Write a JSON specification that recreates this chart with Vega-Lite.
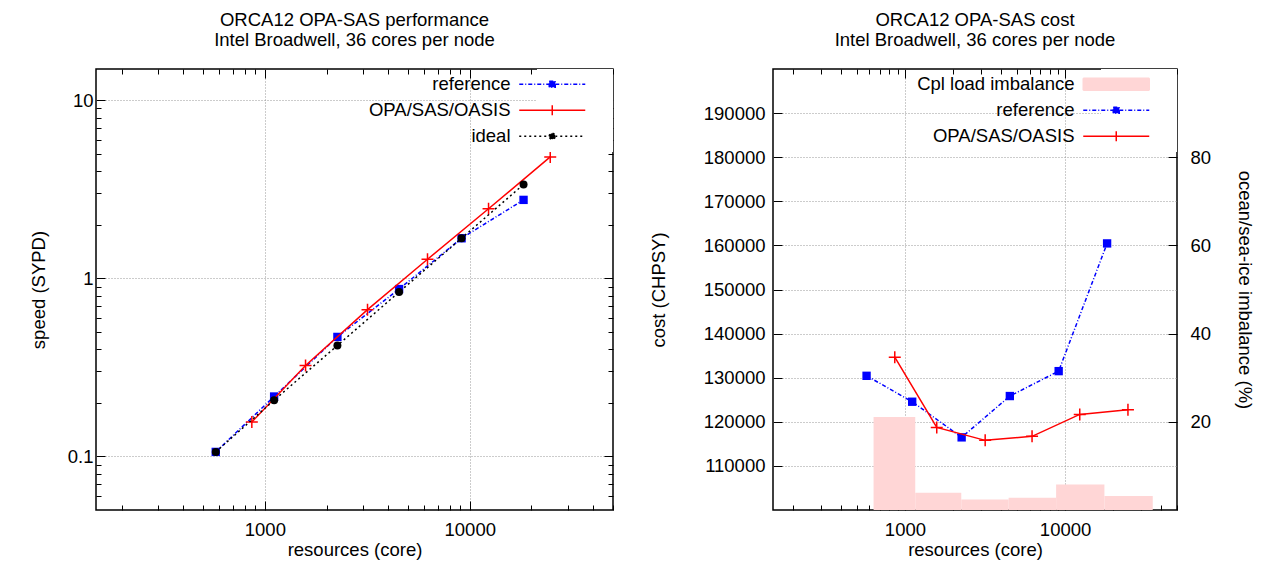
{
  "$schema": "https://vega.github.io/schema/vega-lite/v6.json",
  "background": "white",
  "padding": {"left": 28, "top": 10, "right": 0, "bottom": 0},
  "datasets": {
    "speed": [
      {"cores": 576, "sypd": 0.106, "series": "reference"},
      {"cores": 1110, "sypd": 0.217, "series": "reference"},
      {"cores": 2260, "sypd": 0.469, "series": "reference"},
      {"cores": 4520, "sypd": 0.871, "series": "reference"},
      {"cores": 9120, "sypd": 1.68, "series": "reference"},
      {"cores": 18300, "sypd": 2.76, "series": "reference"},
      {"cores": 864, "sypd": 0.156, "series": "OPA/SAS/OASIS"},
      {"cores": 1580, "sypd": 0.324, "series": "OPA/SAS/OASIS"},
      {"cores": 3170, "sypd": 0.667, "series": "OPA/SAS/OASIS"},
      {"cores": 6220, "sypd": 1.28, "series": "OPA/SAS/OASIS"},
      {"cores": 12350, "sypd": 2.46, "series": "OPA/SAS/OASIS"},
      {"cores": 24700, "sypd": 4.81, "series": "OPA/SAS/OASIS"},
      {"cores": 576, "sypd": 0.106, "series": "ideal"},
      {"cores": 1110, "sypd": 0.207, "series": "ideal"},
      {"cores": 2260, "sypd": 0.42, "series": "ideal"},
      {"cores": 4520, "sypd": 0.838, "series": "ideal"},
      {"cores": 9120, "sypd": 1.68, "series": "ideal"},
      {"cores": 18300, "sypd": 3.37, "series": "ideal"}
    ],
    "cost": [
      {"cores": 576, "chpsy": 130430, "series": "reference"},
      {"cores": 1110, "chpsy": 124550, "series": "reference"},
      {"cores": 2260, "chpsy": 116470, "series": "reference"},
      {"cores": 4520, "chpsy": 125840, "series": "reference"},
      {"cores": 9120, "chpsy": 131490, "series": "reference"},
      {"cores": 18300, "chpsy": 160450, "series": "reference"},
      {"cores": 864, "chpsy": 134660, "series": "OPA/SAS/OASIS"},
      {"cores": 1580, "chpsy": 118730, "series": "OPA/SAS/OASIS"},
      {"cores": 3170, "chpsy": 115790, "series": "OPA/SAS/OASIS"},
      {"cores": 6220, "chpsy": 116700, "series": "OPA/SAS/OASIS"},
      {"cores": 12350, "chpsy": 121670, "series": "OPA/SAS/OASIS"},
      {"cores": 24700, "chpsy": 122740, "series": "OPA/SAS/OASIS"}
    ],
    "imb": [
      {"start": 637, "end": 1160, "pct": 21.1, "series": "Cpl load imbalance"},
      {"start": 1160, "end": 2248, "pct": 3.9, "series": "Cpl load imbalance"},
      {"start": 2248, "end": 4441, "pct": 2.4, "series": "Cpl load imbalance"},
      {"start": 4441, "end": 8790, "pct": 2.8, "series": "Cpl load imbalance"},
      {"start": 8790, "end": 17610, "pct": 5.8, "series": "Cpl load imbalance"},
      {"start": 17610, "end": 35280, "pct": 3.2, "series": "Cpl load imbalance"}
    ]
  },
  "spacing": 33,
  "resolve": {"scale": {"color": "independent"}, "legend": {"color": "independent"}},
  "hconcat": [
    {
      "width": 517,
      "height": 441,
      "title": {"text": ["ORCA12 OPA-SAS performance", "Intel Broadwell, 36 cores per node"], "frame": "group", "anchor": "middle", "offset": 19},
      "data": {"name": "speed"},
      "resolve": {"axis": {"x": "independent", "y": "independent"}},
      "layer": [
        {
          "transform": [{"filter": "datum.series === 'reference'"}],
          "mark": {"type": "line", "strokeWidth": 1.5, "strokeDash": [4, 2, 1, 2]},
          "encoding": {
            "x": {"field": "cores", "type": "quantitative", "scale": {"type": "log", "domain": [150, 50000], "nice": false},
              "axis": {"orient": "bottom", "title": "resources (core)", "values": [200,300,400,500,600,700,800,900,1000,2000,3000,4000,5000,6000,7000,8000,9000,10000,20000,30000,40000,50000],
                "labelExpr": "datum.value == 1000 ? '1000' : datum.value == 10000 ? '10000' : ''",
                "labelOverlap": false, "labelFlush": false, "labelPadding": 19, "titlePadding": -2,
                "tickSize": {"condition": {"test": "datum.value == 1000 || datum.value == 10000", "value": -9}, "value": -5},
                "grid": true, "gridOpacity": {"condition": {"test": "datum.value == 1000 || datum.value == 10000", "value": 1}, "value": 0}}},
            "y": {"field": "sypd", "type": "quantitative", "scale": {"type": "log", "domain": [0.05, 15], "nice": false},
              "axis": {"orient": "left", "title": "speed (SYPD)", "values": [0.06,0.07,0.08,0.09,0.1,0.2,0.3,0.4,0.5,0.6,0.7,0.8,0.9,1,2,3,4,5,6,7,8,9,10],
                "labelExpr": "datum.value == 0.1 ? '0.1' : datum.value == 1 ? '1' : datum.value == 10 ? '10' : ''",
                "labelOverlap": false, "labelFlush": false, "labelPadding": 12, "titlePadding": 19,
                "tickSize": {"condition": {"test": "datum.value == 0.1 || datum.value == 1 || datum.value == 10", "value": -9}, "value": -5},
                "grid": true, "gridOpacity": {"condition": {"test": "datum.value == 0.1 || datum.value == 1 || datum.value == 10", "value": 1}, "value": 0}}},
            "color": {"field": "series", "type": "nominal",
              "scale": {"domain": ["reference", "OPA/SAS/OASIS", "ideal"], "range": ["#0000ff", "#ff0000", "#000000"]},
              "legend": {
                "title": null, "orient": "top-right", "offset": 0, "fillColor": "white", "padding": 6,
                "symbolSize": 100, "symbolStrokeWidth": 1.5, "labelAlign": "right", "labelOffset": -51,
                "labelFontSize": 18.5, "labelLimit": 400, "rowPadding": 7,
                "encode": {"symbols": {"update": {
                  "shape": {"signal": "datum.value === 'reference' ? 'M-6.6,0H6.6M-0.6,-0.6H0.6V0.6H-0.6ZM10.2,0' : datum.value === 'ideal' ? 'M-6.6,0H-0.6A0.6,0.6,0,1,1,0.6,0A0.6,0.6,0,1,1,-0.6,0M0.6,0H6.6M10.2,0' : 'M-6.6,0H6.6M0,-1V1M10.2,0'"},
                  "fill": {"signal": "datum.value === 'reference' ? '#0000ff' : datum.value === 'ideal' ? '#000000' : 'transparent'"},
                  "stroke": {"signal": "datum.value === 'reference' ? '#0000ff' : datum.value === 'ideal' ? '#000000' : '#ff0000'"},
                  "strokeDash": {"signal": "datum.value === 'reference' ? [4,2,1,2] : datum.value === 'ideal' ? [2,3] : [1,0]"},
                  "opacity": {"value": 1}
                }}}
              }}
          }
        },
        {
          "transform": [{"filter": "datum.series === 'reference'"}],
          "mark": {"type": "point", "shape": "square", "filled": true, "size": 70, "opacity": 1},
          "encoding": {
            "x": {"field": "cores", "type": "quantitative", "scale": {"type": "log", "domain": [150, 50000], "nice": false},
              "axis": {"orient": "top", "title": null, "labels": false, "grid": false, "values": [200,300,400,500,600,700,800,900,1000,2000,3000,4000,5000,6000,7000,8000,9000,10000,20000,30000,40000,50000],
                "tickSize": {"condition": {"test": "datum.value == 1000 || datum.value == 10000", "value": -9}, "value": -5}}},
            "y": {"field": "sypd", "type": "quantitative", "scale": {"type": "log", "domain": [0.05, 15], "nice": false},
              "axis": {"orient": "right", "title": null, "labels": false, "grid": false, "values": [0.06,0.07,0.08,0.09,0.1,0.2,0.3,0.4,0.5,0.6,0.7,0.8,0.9,1,2,3,4,5,6,7,8,9,10],
                "tickSize": {"condition": {"test": "datum.value == 0.1 || datum.value == 1 || datum.value == 10", "value": -9}, "value": -5}}},
            "color": {"field": "series", "type": "nominal"}
          }
        },
        {
          "transform": [{"filter": "datum.series === 'OPA/SAS/OASIS'"}],
          "mark": {"type": "line", "strokeWidth": 1.5},
          "encoding": {
            "x": {"field": "cores", "type": "quantitative", "scale": {"type": "log", "domain": [150, 50000], "nice": false}, "axis": null},
            "y": {"field": "sypd", "type": "quantitative", "scale": {"type": "log", "domain": [0.05, 15], "nice": false}, "axis": null},
            "color": {"field": "series", "type": "nominal"}
          }
        },
        {
          "transform": [{"filter": "datum.series === 'OPA/SAS/OASIS'"}],
          "mark": {"type": "point", "shape": "M-1,0H1M0,-1V1", "filled": false, "size": 144, "strokeWidth": 1.5, "opacity": 1},
          "encoding": {
            "x": {"field": "cores", "type": "quantitative", "scale": {"type": "log", "domain": [150, 50000], "nice": false}, "axis": null},
            "y": {"field": "sypd", "type": "quantitative", "scale": {"type": "log", "domain": [0.05, 15], "nice": false}, "axis": null},
            "color": {"field": "series", "type": "nominal"}
          }
        },
        {
          "transform": [{"filter": "datum.series === 'ideal'"}],
          "mark": {"type": "line", "strokeWidth": 1.5, "strokeDash": [2, 3]},
          "encoding": {
            "x": {"field": "cores", "type": "quantitative", "scale": {"type": "log", "domain": [150, 50000], "nice": false}, "axis": null},
            "y": {"field": "sypd", "type": "quantitative", "scale": {"type": "log", "domain": [0.05, 15], "nice": false}, "axis": null},
            "color": {"field": "series", "type": "nominal"}
          }
        },
        {
          "transform": [{"filter": "datum.series === 'ideal'"}],
          "mark": {"type": "point", "shape": "circle", "filled": true, "size": 64, "opacity": 1},
          "encoding": {
            "x": {"field": "cores", "type": "quantitative", "scale": {"type": "log", "domain": [150, 50000], "nice": false}, "axis": null},
            "y": {"field": "sypd", "type": "quantitative", "scale": {"type": "log", "domain": [0.05, 15], "nice": false}, "axis": null},
            "color": {"field": "series", "type": "nominal"}
          }
        }
      ]
    },
    {
      "width": 404,
      "height": 441,
      "title": {"text": ["ORCA12 OPA-SAS cost", "Intel Broadwell, 36 cores per node"], "frame": "group", "anchor": "middle", "offset": 19},
      "resolve": {"scale": {"y": "independent"}, "axis": {"x": "independent", "y": "independent"}},
      "layer": [
        {
          "data": {"name": "imb"},
          "mark": {"type": "rect"},
          "encoding": {
            "x": {"field": "start", "type": "quantitative", "scale": {"type": "log", "domain": [150, 50000], "nice": false},
              "axis": {"orient": "bottom", "title": "resources (core)", "values": [200,300,400,500,600,700,800,900,1000,2000,3000,4000,5000,6000,7000,8000,9000,10000,20000,30000,40000,50000],
                "labelExpr": "datum.value == 1000 ? '1000' : datum.value == 10000 ? '10000' : ''",
                "labelOverlap": false, "labelFlush": false, "labelPadding": 19, "titlePadding": -2,
                "tickSize": {"condition": {"test": "datum.value == 1000 || datum.value == 10000", "value": -9}, "value": -5},
                "grid": true, "gridOpacity": {"condition": {"test": "datum.value == 1000 || datum.value == 10000", "value": 1}, "value": 0}}},
            "x2": {"field": "end"},
            "y": {"field": "pct", "type": "quantitative", "scale": {"domain": [0, 100], "nice": false},
              "axis": {"orient": "right", "title": "ocean/sea-ice imbalance (%)", "values": [20, 40, 60, 80], "grid": false,
                "labelPadding": 22, "titlePadding": 24, "tickSize": -9, "labelFlush": false}},
            "y2": {"datum": 0},
            "color": {"field": "series", "type": "nominal",
              "scale": {"domain": ["Cpl load imbalance", "reference", "OPA/SAS/OASIS"], "range": ["#ffd6d6", "#0000ff", "#ff0000"]},
              "legend": {
                "title": null, "orient": "top-right", "offset": 0, "fillColor": "white", "padding": 6,
                "symbolSize": 100, "symbolStrokeWidth": 1.5, "labelAlign": "right", "labelOffset": -51,
                "labelFontSize": 18.5, "labelLimit": 400, "rowPadding": 7,
                "encode": {"symbols": {"update": {
                  "shape": {"signal": "datum.value === 'reference' ? 'M-50.2,0M-6.6,0H6.6M-0.6,-0.6H0.6V0.6H-0.6ZM10.2,0' : datum.value === 'Cpl load imbalance' ? 'M-50.2,0M-6.6,-1.2H6.6V1.2H-6.6ZM10.2,0' : 'M-50.2,0M-6.6,0H6.6M0,-1V1M10.2,0'"},
                  "fill": {"signal": "datum.value === 'reference' ? '#0000ff' : datum.value === 'Cpl load imbalance' ? '#ffd6d6' : 'transparent'"},
                  "stroke": {"signal": "datum.value === 'reference' ? '#0000ff' : datum.value === 'Cpl load imbalance' ? '#ffd6d6' : '#ff0000'"},
                  "strokeDash": {"signal": "datum.value === 'reference' ? [4,2,1,2] : [1,0]"},
                  "opacity": {"value": 1}
                }}}
              }}
          }
        },
        {
          "data": {"name": "cost"},
          "transform": [{"filter": "datum.series === 'reference'"}],
          "mark": {"type": "line", "strokeWidth": 1.5, "strokeDash": [4, 2, 1, 2]},
          "encoding": {
            "x": {"field": "cores", "type": "quantitative", "scale": {"type": "log", "domain": [150, 50000], "nice": false},
              "axis": {"orient": "top", "title": null, "labels": false, "grid": false, "values": [200,300,400,500,600,700,800,900,1000,2000,3000,4000,5000,6000,7000,8000,9000,10000,20000,30000,40000,50000],
                "tickSize": {"condition": {"test": "datum.value == 1000 || datum.value == 10000", "value": -9}, "value": -5}}},
            "y": {"field": "chpsy", "type": "quantitative", "scale": {"domain": [100000, 200000], "nice": false, "zero": false},
              "axis": {"orient": "left", "title": "cost (CHPSY)", "values": [110000,120000,130000,140000,150000,160000,170000,180000,190000], "format": "d",
                "labelPadding": 17, "titlePadding": 35, "tickSize": -9, "grid": true, "labelFlush": false}},
            "color": {"field": "series", "type": "nominal"}
          }
        },
        {
          "data": {"name": "cost"},
          "transform": [{"filter": "datum.series === 'reference'"}],
          "mark": {"type": "point", "shape": "square", "filled": true, "size": 70, "opacity": 1},
          "encoding": {
            "x": {"field": "cores", "type": "quantitative", "scale": {"type": "log", "domain": [150, 50000], "nice": false}, "axis": null},
            "y": {"field": "chpsy", "type": "quantitative", "scale": {"domain": [100000, 200000], "nice": false, "zero": false}, "axis": null},
            "color": {"field": "series", "type": "nominal"}
          }
        },
        {
          "data": {"name": "cost"},
          "transform": [{"filter": "datum.series === 'OPA/SAS/OASIS'"}],
          "mark": {"type": "line", "strokeWidth": 1.5},
          "encoding": {
            "x": {"field": "cores", "type": "quantitative", "scale": {"type": "log", "domain": [150, 50000], "nice": false}, "axis": null},
            "y": {"field": "chpsy", "type": "quantitative", "scale": {"domain": [100000, 200000], "nice": false, "zero": false}, "axis": null},
            "color": {"field": "series", "type": "nominal"}
          }
        },
        {
          "data": {"name": "cost"},
          "transform": [{"filter": "datum.series === 'OPA/SAS/OASIS'"}],
          "mark": {"type": "point", "shape": "M-1,0H1M0,-1V1", "filled": false, "size": 144, "strokeWidth": 1.5, "opacity": 1},
          "encoding": {
            "x": {"field": "cores", "type": "quantitative", "scale": {"type": "log", "domain": [150, 50000], "nice": false}, "axis": null},
            "y": {"field": "chpsy", "type": "quantitative", "scale": {"domain": [100000, 200000], "nice": false, "zero": false}, "axis": null},
            "color": {"field": "series", "type": "nominal"}
          }
        }
      ]
    }
  ],
  "config": {
    "font": "Liberation Sans",
    "view": {"stroke": "#000000", "strokeWidth": 1.5},
    "title": {"fontSize": 18.5, "fontWeight": "normal", "color": "#000000", "lineHeight": 20, "font": "Liberation Sans"},
    "axis": {"domain": false, "labelFont": "Liberation Sans", "titleFont": "Liberation Sans", "labelFontSize": 18.5, "titleFontSize": 18.5, "titleFontWeight": "normal",
      "labelColor": "#000000", "titleColor": "#000000", "tickColor": "#000000", "tickWidth": 1, "gridColor": "#999999", "gridDash": [1, 2], "gridWidth": 1},
    "legend": {"labelFont": "Liberation Sans", "labelColor": "#000000"}
  }
}
